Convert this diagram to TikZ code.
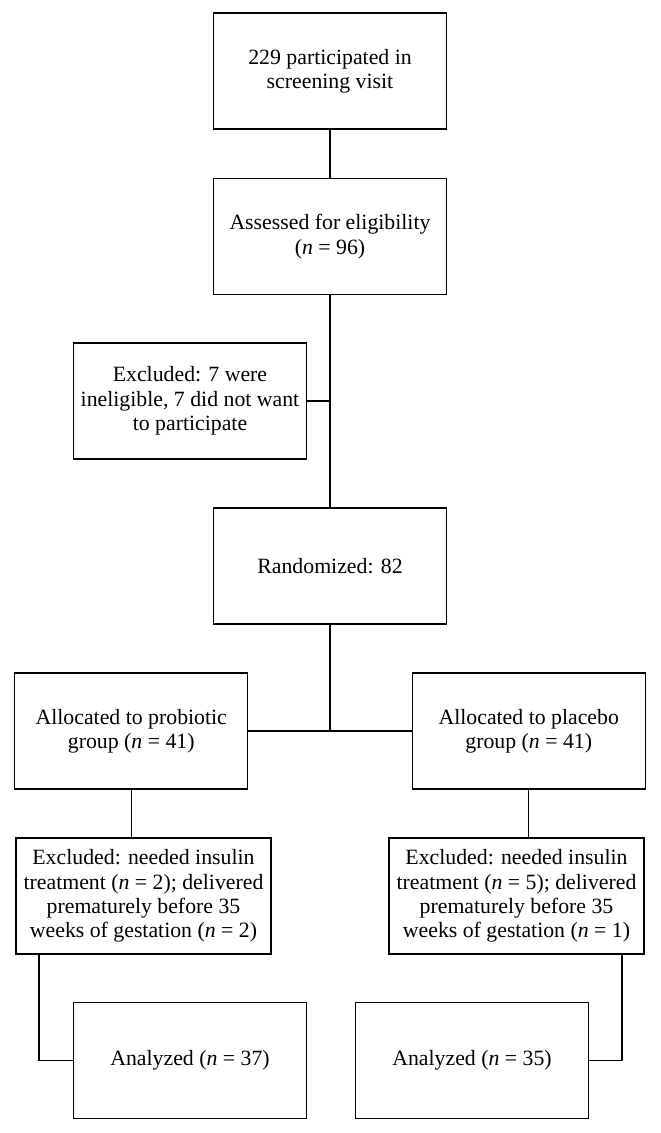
\documentclass[tikz,border=0pt]{standalone}
\usepackage{fontspec}
\setmainfont{Liberation Serif}
\usepackage{tikz}
\usetikzlibrary{positioning}

\tikzset{
	flowbox/.style={draw, line width=.8pt, align=center, inner sep=0pt,
		minimum width=5.825cm, minimum height=2.9cm,
		font=\fontsize{15.5}{17.3}\selectfont},
	widebox/.style={flowbox, minimum width=6.375cm},
	link/.style={line width=.8pt}
}

\begin{document}
\begin{tikzpicture}[x=0.025cm, y=-0.025cm]
				\useasboundingbox (0,0) rectangle (660,1133);
				
				% Boxes
				\node[flowbox] (screen) at (330,71) {229 participated in\\screening visit};
				\node[flowbox] (assess) at (330,236.5) {Assessed for eligibility\\(\textit{n} = 96)};
				\node[flowbox] (excl) at (190,401) {Excluded: 7 were\\ineligible, 7 did not want\\to participate};
				\node[flowbox] (rand) at (330,566) {Randomized: 82};
				\node[flowbox] (probio) at (131.25,731) {Allocated to probiotic\\group (\textit{n} = 41)};
				\node[flowbox] (placebo) at (528.75,731) {Allocated to placebo\\group (\textit{n} = 41)};
				\node[widebox] (exclprob) at (143.5,896) {Excluded: needed insulin\\treatment (\textit{n} = 2); delivered\\prematurely before 35\\weeks of gestation (\textit{n} = 2)};
				\node[widebox] (exclplac) at (516.5,896) {Excluded: needed insulin\\treatment (\textit{n} = 5); delivered\\prematurely before 35\\weeks of gestation (\textit{n} = 1)};
				\node[flowbox] (anaprob) at (190,1060.5) {Analyzed (\textit{n} = 37)};
				\node[flowbox] (anaplac) at (472,1060.5) {Analyzed (\textit{n} = 35)};
				\coordinate (kneeL) at (39,1060.5);
				\coordinate (kneeR) at (622,1060.5);
				
				% Lines
				\draw[link] (screen) -- (assess);
				\draw[link] (assess) -- (rand);
				\draw[link] (excl.east) -- (excl.east -| assess.south);
				\draw[link] (rand.south) -- (rand.south |- probio.east);
				\draw[link] (probio.east) -- (placebo.west);
				\draw[link] (probio.south) -- (probio.south |- exclprob.north);
				\draw[link] (placebo.south) -- (placebo.south |- exclplac.north);
				\draw[link] (exclprob.south -| kneeL) -- (kneeL) -- (anaprob.west);
				\draw[link] (exclplac.south -| kneeR) -- (kneeR) -- (anaplac.east);
			\end{tikzpicture}
\end{document}
